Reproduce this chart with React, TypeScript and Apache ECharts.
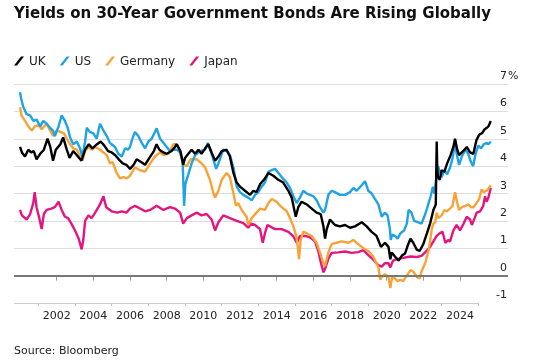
import React, { useEffect, useRef } from "react";
import * as echarts from "echarts";

const TITLE = "Yields on 30-Year Government Bonds Are Rising Globally";
const SOURCE = "Source: Bloomberg";
const FONT = "DejaVu Sans";

const seriesNames = ["UK", "US", "Germany", "Japan"];
const seriesColors: Record<string, string> = {
  UK: "#000000",
  US: "#1fa3e6",
  Germany: "#f7a338",
  Japan: "#e4157f",
};

const xLabelYears = [2002, 2004, 2006, 2008, 2010, 2012, 2014, 2016, 2018, 2020, 2022, 2024];
const minorYears = [2001, 2003, 2005, 2007, 2009, 2011, 2013, 2015, 2017, 2019, 2021, 2023, 2025];
const xMin = 1999.67;
const xMax = 2026.62;
const axisLineEnd = 2025;
const yMin = -1;
const yMax = 7;

const ukData: [number, number][] = [
  [2000.0, 4.7], [2000.1, 4.5], [2000.27, 4.35], [2000.45, 4.6], [2000.6, 4.5], [2000.75, 4.55],
  [2000.9, 4.25], [2001.1, 4.45], [2001.3, 4.6], [2001.5, 5.0], [2001.65, 4.7], [2001.8, 4.2],
  [2001.95, 4.6], [2002.2, 4.8], [2002.35, 5.05], [2002.55, 4.6], [2002.7, 4.3], [2002.9, 4.55],
  [2003.1, 4.4], [2003.35, 4.2], [2003.55, 4.6], [2003.75, 4.8], [2003.95, 4.65], [2004.2, 4.8],
  [2004.4, 4.9], [2004.6, 4.75], [2004.8, 4.55], [2005.0, 4.5], [2005.2, 4.4], [2005.45, 4.2],
  [2005.6, 4.1], [2005.8, 4.05], [2006.0, 3.9], [2006.2, 4.05], [2006.36, 4.25], [2006.6, 4.15],
  [2006.82, 4.05], [2007.1, 4.35], [2007.3, 4.55], [2007.45, 4.8], [2007.6, 4.6], [2007.82, 4.5],
  [2008.0, 4.45], [2008.27, 4.55], [2008.45, 4.7], [2008.55, 4.8], [2008.75, 4.55], [2008.9, 4.05],
  [2009.0, 4.3], [2009.18, 4.45], [2009.36, 4.6], [2009.55, 4.45], [2009.73, 4.6], [2009.9, 4.45],
  [2010.1, 4.65], [2010.27, 4.8], [2010.45, 4.5], [2010.64, 4.2], [2010.82, 4.35], [2011.0, 4.55],
  [2011.27, 4.6], [2011.45, 4.35], [2011.64, 3.75], [2011.82, 3.4], [2012.0, 3.25], [2012.27, 3.1],
  [2012.55, 2.95], [2012.73, 3.1], [2012.9, 3.05], [2013.1, 3.35], [2013.36, 3.55], [2013.55, 3.75],
  [2013.82, 3.65], [2014.09, 3.5], [2014.36, 3.4], [2014.64, 3.1], [2014.82, 2.85], [2015.04, 2.15],
  [2015.18, 2.5], [2015.36, 2.7], [2015.64, 2.6], [2015.91, 2.45], [2016.18, 2.3], [2016.4, 2.25],
  [2016.55, 1.8], [2016.64, 1.35], [2016.73, 1.7], [2016.91, 2.05], [2017.18, 1.85], [2017.45, 1.8],
  [2017.73, 1.85], [2018.0, 1.75], [2018.27, 1.8], [2018.64, 1.95], [2018.91, 1.8], [2019.18, 1.6],
  [2019.45, 1.45], [2019.69, 1.05], [2019.91, 1.2], [2020.1, 1.05], [2020.2, 0.6], [2020.28, 0.85],
  [2020.45, 0.7], [2020.65, 0.55], [2020.85, 0.75], [2021.0, 0.8], [2021.15, 1.1], [2021.3, 1.35],
  [2021.45, 1.2], [2021.64, 0.95], [2021.8, 0.9], [2022.0, 1.15], [2022.2, 1.55], [2022.37, 1.9],
  [2022.55, 2.4], [2022.68, 2.6], [2022.73, 4.9], [2022.76, 3.9], [2022.8, 3.6], [2022.9, 3.5],
  [2023.0, 3.85], [2023.15, 3.8], [2023.3, 4.1], [2023.46, 4.35], [2023.64, 4.7], [2023.73, 5.0],
  [2023.85, 4.6], [2023.95, 4.4], [2024.1, 4.5], [2024.25, 4.6], [2024.37, 4.7], [2024.55, 4.5],
  [2024.73, 4.45], [2024.9, 4.95], [2025.05, 5.15], [2025.2, 5.2], [2025.35, 5.35], [2025.46, 5.4],
  [2025.55, 5.45], [2025.68, 5.65],
];

const usData: [number, number][] = [
  [2000.0, 6.7], [2000.05, 6.5], [2000.18, 6.15], [2000.36, 5.9], [2000.55, 5.85], [2000.73, 5.65],
  [2000.9, 5.7], [2001.1, 5.45], [2001.27, 5.65], [2001.45, 5.55], [2001.64, 5.4], [2001.8, 5.3],
  [2001.9, 5.1], [2002.1, 5.45], [2002.27, 5.85], [2002.45, 5.65], [2002.6, 5.4], [2002.73, 5.05],
  [2002.9, 4.8], [2003.1, 4.9], [2003.27, 4.65], [2003.4, 4.35], [2003.55, 4.9], [2003.64, 5.4],
  [2003.8, 5.25], [2004.0, 5.2], [2004.18, 5.0], [2004.36, 5.55], [2004.55, 5.3], [2004.73, 5.1],
  [2004.9, 4.85], [2005.0, 4.8], [2005.18, 4.7], [2005.36, 4.45], [2005.55, 4.35], [2005.73, 4.65],
  [2005.9, 4.6], [2006.0, 4.7], [2006.1, 4.95], [2006.27, 5.25], [2006.45, 5.1], [2006.64, 4.85],
  [2006.82, 4.65], [2007.0, 4.9], [2007.18, 5.0], [2007.36, 5.25], [2007.45, 5.38], [2007.64, 5.0],
  [2007.82, 4.85], [2008.0, 4.7], [2008.18, 4.55], [2008.36, 4.6], [2008.55, 4.6], [2008.73, 4.5],
  [2008.87, 4.2], [2008.95, 2.55], [2009.02, 3.35], [2009.18, 3.7], [2009.36, 4.1], [2009.55, 4.4],
  [2009.82, 4.55], [2010.1, 4.6], [2010.24, 4.85], [2010.45, 4.45], [2010.7, 3.9], [2010.82, 4.1],
  [2011.09, 4.6], [2011.27, 4.55], [2011.45, 4.4], [2011.64, 3.95], [2011.82, 3.25], [2012.0, 3.05],
  [2012.18, 2.95], [2012.45, 2.85], [2012.64, 2.75], [2012.82, 2.95], [2013.0, 3.05], [2013.18, 3.25],
  [2013.36, 3.4], [2013.55, 3.8], [2013.73, 3.85], [2013.91, 3.9], [2014.1, 3.75], [2014.27, 3.6],
  [2014.55, 3.4], [2014.73, 3.2], [2014.91, 2.9], [2015.09, 2.65], [2015.27, 2.85], [2015.45, 3.1],
  [2015.64, 3.0], [2015.82, 2.95], [2016.0, 2.9], [2016.18, 2.75], [2016.36, 2.5], [2016.55, 2.3],
  [2016.64, 2.4], [2016.82, 2.95], [2017.0, 3.1], [2017.18, 3.05], [2017.45, 2.95], [2017.73, 2.95],
  [2018.0, 3.05], [2018.18, 3.2], [2018.36, 3.1], [2018.64, 3.3], [2018.82, 3.45], [2019.0, 3.1],
  [2019.18, 3.0], [2019.36, 2.8], [2019.55, 2.6], [2019.73, 2.15], [2019.9, 2.3], [2020.05, 2.2],
  [2020.18, 1.7], [2020.22, 1.3], [2020.3, 1.5], [2020.45, 1.45], [2020.6, 1.35], [2020.75, 1.55],
  [2020.95, 1.65], [2021.1, 1.9], [2021.2, 2.4], [2021.35, 2.3], [2021.5, 2.0], [2021.7, 1.95],
  [2021.9, 1.9], [2022.05, 2.15], [2022.2, 2.45], [2022.4, 2.9], [2022.52, 3.25], [2022.6, 3.0],
  [2022.7, 3.5], [2022.8, 4.0], [2022.9, 3.8], [2023.0, 3.6], [2023.15, 3.85], [2023.3, 3.7],
  [2023.46, 3.95], [2023.6, 4.3], [2023.73, 4.85], [2023.82, 4.45], [2023.95, 4.05], [2024.1, 4.35],
  [2024.3, 4.6], [2024.45, 4.45], [2024.6, 4.15], [2024.72, 4.0], [2024.85, 4.45], [2025.0, 4.75],
  [2025.15, 4.65], [2025.3, 4.8], [2025.45, 4.85], [2025.55, 4.8], [2025.68, 4.9],
];

const germanyData: [number, number][] = [
  [2000.0, 6.15], [2000.08, 5.85], [2000.27, 5.65], [2000.45, 5.45], [2000.64, 5.3], [2000.8, 5.45],
  [2001.0, 5.5], [2001.18, 5.35], [2001.45, 5.55], [2001.6, 5.35], [2001.8, 5.1], [2002.0, 5.3],
  [2002.2, 5.25], [2002.4, 5.2], [2002.55, 5.0], [2002.73, 4.8], [2002.9, 4.65], [2003.1, 4.6],
  [2003.27, 4.35], [2003.4, 4.2], [2003.55, 4.55], [2003.73, 4.7], [2003.9, 4.6], [2004.1, 4.7],
  [2004.36, 4.6], [2004.55, 4.5], [2004.73, 4.4], [2004.9, 4.1], [2005.05, 4.15], [2005.27, 3.75],
  [2005.45, 3.55], [2005.64, 3.6], [2005.82, 3.55], [2006.0, 3.65], [2006.27, 3.95], [2006.55, 3.85],
  [2006.82, 3.8], [2007.1, 4.1], [2007.36, 4.35], [2007.64, 4.5], [2007.82, 4.4], [2008.1, 4.45],
  [2008.36, 4.8], [2008.55, 4.8], [2008.73, 4.5], [2008.9, 4.05], [2009.1, 4.0], [2009.3, 4.25],
  [2009.64, 4.25], [2009.9, 4.1], [2010.1, 3.95], [2010.36, 3.5], [2010.55, 3.0], [2010.64, 2.85],
  [2010.82, 3.1], [2011.0, 3.5], [2011.27, 3.75], [2011.45, 3.6], [2011.64, 3.0], [2011.78, 2.55],
  [2011.9, 2.65], [2012.09, 2.4], [2012.36, 2.15], [2012.45, 1.85], [2012.64, 2.1], [2012.9, 2.3],
  [2013.1, 2.45], [2013.36, 2.4], [2013.55, 2.65], [2013.73, 2.8], [2014.0, 2.7], [2014.27, 2.5],
  [2014.55, 2.35], [2014.73, 2.1], [2014.91, 1.8], [2015.09, 1.4], [2015.22, 0.6], [2015.31, 1.3],
  [2015.45, 1.6], [2015.64, 1.55], [2015.91, 1.45], [2016.18, 1.2], [2016.36, 0.85], [2016.55, 0.45],
  [2016.64, 0.35], [2016.82, 0.85], [2017.0, 1.15], [2017.27, 1.2], [2017.55, 1.25], [2017.91, 1.2],
  [2018.18, 1.3], [2018.45, 1.15], [2018.73, 1.0], [2019.0, 0.9], [2019.27, 0.7], [2019.55, 0.3],
  [2019.65, -0.15], [2019.73, -0.05], [2019.9, 0.05], [2020.1, -0.05], [2020.2, -0.45], [2020.3, -0.05],
  [2020.45, -0.1], [2020.6, -0.2], [2020.75, -0.15], [2020.9, -0.2], [2021.1, 0.0], [2021.3, 0.2],
  [2021.45, 0.15], [2021.65, -0.05], [2021.8, -0.1], [2021.9, 0.15], [2022.1, 0.45], [2022.3, 0.95],
  [2022.46, 1.7], [2022.55, 1.9], [2022.65, 1.95], [2022.73, 2.3], [2022.82, 2.1], [2023.0, 2.2],
  [2023.15, 2.4], [2023.28, 2.35], [2023.45, 2.45], [2023.6, 2.55], [2023.73, 3.05], [2023.82, 2.75],
  [2023.95, 2.4], [2024.1, 2.5], [2024.3, 2.55], [2024.45, 2.6], [2024.6, 2.5], [2024.75, 2.5],
  [2024.9, 2.65], [2025.05, 2.8], [2025.18, 3.15], [2025.3, 3.05], [2025.45, 3.1], [2025.58, 3.2],
  [2025.68, 3.3],
];

const japanData: [number, number][] = [
  [2000.0, 2.4], [2000.1, 2.2], [2000.36, 2.05], [2000.55, 2.25], [2000.72, 2.65], [2000.8, 3.05],
  [2000.9, 2.5], [2001.05, 2.1], [2001.18, 1.7], [2001.3, 2.25], [2001.45, 2.4], [2001.7, 2.45],
  [2001.9, 2.5], [2002.1, 2.7], [2002.27, 2.4], [2002.45, 2.15], [2002.62, 2.1], [2002.8, 1.9],
  [2003.0, 1.65], [2003.2, 1.35], [2003.36, 0.96], [2003.45, 1.3], [2003.55, 2.0], [2003.73, 2.2],
  [2003.9, 2.1], [2004.1, 2.3], [2004.36, 2.6], [2004.55, 2.9], [2004.7, 2.5], [2005.0, 2.35],
  [2005.3, 2.3], [2005.55, 2.35], [2005.8, 2.3], [2006.0, 2.45], [2006.27, 2.55], [2006.55, 2.45],
  [2006.82, 2.35], [2007.1, 2.4], [2007.45, 2.55], [2007.82, 2.4], [2008.18, 2.5], [2008.45, 2.45],
  [2008.73, 2.3], [2008.9, 1.9], [2009.1, 2.1], [2009.36, 2.2], [2009.64, 2.3], [2009.9, 2.2],
  [2010.18, 2.25], [2010.45, 2.05], [2010.64, 1.65], [2010.82, 1.95], [2011.09, 2.2], [2011.45, 2.1],
  [2011.82, 2.0], [2012.18, 1.92], [2012.45, 1.75], [2012.6, 1.9], [2012.82, 1.85], [2013.09, 1.7],
  [2013.24, 1.2], [2013.36, 1.55], [2013.5, 1.85], [2013.91, 1.7], [2014.27, 1.7], [2014.64, 1.6],
  [2014.91, 1.43], [2015.1, 1.2], [2015.27, 1.45], [2015.55, 1.45], [2015.82, 1.4], [2016.09, 1.25],
  [2016.27, 0.9], [2016.42, 0.45], [2016.55, 0.12], [2016.64, 0.25], [2016.82, 0.62], [2017.0, 0.83],
  [2017.36, 0.85], [2017.73, 0.88], [2018.09, 0.83], [2018.45, 0.86], [2018.73, 0.93], [2019.0, 0.75],
  [2019.27, 0.58], [2019.55, 0.38], [2019.73, 0.33], [2019.9, 0.45], [2020.1, 0.45], [2020.2, 0.3],
  [2020.35, 0.55], [2020.55, 0.6], [2020.9, 0.65], [2021.3, 0.7], [2021.64, 0.68], [2021.9, 0.72],
  [2022.18, 0.9], [2022.37, 1.05], [2022.55, 1.25], [2022.73, 1.45], [2022.9, 1.55], [2023.05, 1.6],
  [2023.2, 1.2], [2023.35, 1.3], [2023.46, 1.25], [2023.64, 1.65], [2023.82, 1.85], [2024.0, 1.65],
  [2024.2, 1.9], [2024.37, 2.15], [2024.55, 2.05], [2024.65, 1.85], [2024.8, 2.1], [2024.91, 2.3],
  [2025.1, 2.35], [2025.27, 2.55], [2025.37, 2.9], [2025.45, 2.7], [2025.55, 2.85], [2025.68, 3.2],
];

const seriesData: Record<string, [number, number][]> = {
  UK: ukData,
  US: usData,
  Germany: germanyData,
  Japan: japanData,
};

// drawing order: Japan at the bottom, UK on top
const drawOrder = ["Japan", "Germany", "US", "UK"];

export default function App() {
  const ref = useRef<HTMLDivElement>(null);

  useEffect(() => {
    document.body.style.margin = "0";
    const chart = echarts.init(ref.current!, null, { renderer: "svg" });

    const lineSeries = drawOrder.map((name) => ({
      name,
      type: "line",
      data: seriesData[name],
      showSymbol: false,
      symbol: "none",
      color: seriesColors[name],
      lineStyle: { width: 2.4, color: seriesColors[name] },
      emphasis: { disabled: true },
      z: 3,
    }));

    const option: any = {
      animation: false,
      title: {
        text: TITLE,
        left: 14,
        top: 5,
        padding: 0,
        textStyle: { fontFamily: FONT, fontSize: 15, fontWeight: "bold", color: "#111" },
      },
      legend: {
        data: seriesNames,
        left: 14,
        top: 55,
        padding: 0,
        itemWidth: 10,
        itemHeight: 10,
        itemGap: 14,
        icon: "path://M0,9 L7,0 L10,0 L3,9 Z",
        textStyle: { fontFamily: FONT, fontSize: 12, color: "#222" },
        selectedMode: false,
      },
      grid: { left: 14, right: 28, top: 84, bottom: 61, outerBoundsMode: "none" },
      xAxis: [
        {
          type: "value",
          min: xMin,
          max: xMax,
          position: "bottom",
          axisLine: { show: false },
          splitLine: { show: false },
          axisTick: {
            show: true,
            customValues: xLabelYears,
            length: 5,
            lineStyle: { color: "#999", width: 1 },
          },
          axisLabel: {
            customValues: xLabelYears,
            formatter: (v: number) => String(v),
            fontFamily: FONT,
            fontSize: 11,
            color: "#222",
            margin: 7,
          },
        },
        {
          type: "value",
          min: xMin,
          max: xMax,
          position: "bottom",
          axisLine: { show: false },
          splitLine: { show: false },
          axisLabel: { show: false },
          axisTick: {
            show: true,
            customValues: minorYears,
            length: 3,
            lineStyle: { color: "#bbb", width: 1 },
          },
        },
      ],
      yAxis: {
        type: "value",
        position: "right",
        min: yMin,
        max: yMax,
        interval: 1,
        axisLine: { show: false },
        axisTick: { show: false },
        splitLine: { show: true, showMinLine: false, lineStyle: { color: "#dedede", width: 1 } },
        axisLabel: {
          inside: true,
          margin: 1,
          verticalAlign: "bottom",
          padding: [0, 0, 3, 0],
          fontFamily: FONT,
          fontSize: 11,
          color: "#222",
          formatter: (v: number) => String(v),
        },
      },
      graphic: [
        {
          type: "text",
          left: 14,
          top: 345,
          style: { text: SOURCE, fontFamily: FONT, fontSize: 11, fill: "#222" },
        },
        {
          type: "text",
          x: 508,
          y: 81,
          style: {
            text: "%",
            fontFamily: FONT,
            fontSize: 11,
            fill: "#222",
            align: "left",
            verticalAlign: "bottom",
          },
        },
      ],
      series: [
        {
          name: "_axes",
          type: "line",
          data: [],
          z: 1,
          silent: true,
          markLine: {
            silent: true,
            symbol: ["none", "none"],
            label: { show: false },
            emphasis: { disabled: true },
            data: [
              { yAxis: 0, lineStyle: { color: "#777", width: 2, type: "solid" } },
              [
                { coord: [xMin, yMin], lineStyle: { color: "#ccc", width: 1, type: "solid" } },
                { coord: [axisLineEnd, yMin] },
              ],
            ],
          },
        },
        ...lineSeries,
      ],
    };

    chart.setOption(option);
    return () => chart.dispose();
  }, []);

  return (
    <div
      ref={ref}
      style={{ position: "fixed", left: 0, top: 0, width: 536, height: 364 }}
    />
  );
}
